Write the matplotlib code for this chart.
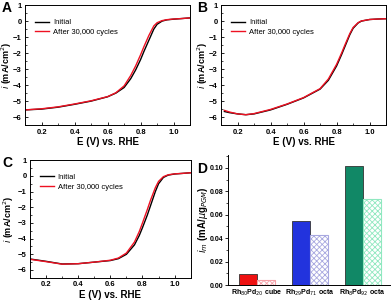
import matplotlib
matplotlib.use("Agg")
import matplotlib.pyplot as plt
from matplotlib.ticker import MultipleLocator

plt.rcParams['font.family'] = ['Liberation Sans', 'DejaVu Sans']
plt.rcParams['hatch.linewidth'] = 0.6

# --- LSV curves (E in V vs RHE, current in mA/cm2) ---
E_a = [0.10, 0.20, 0.30, 0.40, 0.50, 0.60, 0.65, 0.70, 0.74, 0.77, 0.80, 0.82, 0.85, 0.88, 0.90, 0.93, 0.96, 1.00, 1.05, 1.10]
a_init = [-5.55, -5.50, -5.38, -5.20, -5.00, -4.73, -4.50, -4.15, -3.60, -3.05, -2.40, -1.90, -1.20, -0.50, -0.20, 0.00, 0.08, 0.12, 0.16, 0.20]
a_after = [-5.55, -5.48, -5.36, -5.18, -4.98, -4.72, -4.48, -4.05, -3.40, -2.80, -2.10, -1.60, -0.90, -0.30, -0.10, 0.03, 0.09, 0.13, 0.16, 0.20]

E_b = [0.12, 0.15, 0.20, 0.25, 0.30, 0.40, 0.50, 0.60, 0.70, 0.75, 0.80, 0.83, 0.85, 0.88, 0.90, 0.93, 0.95, 1.00, 1.05, 1.10]
b_init = [-5.65, -5.72, -5.80, -5.85, -5.80, -5.55, -5.20, -4.80, -4.25, -3.70, -2.80, -2.10, -1.60, -0.85, -0.45, -0.12, 0.00, 0.10, 0.13, 0.15]
b_after = [-5.58, -5.68, -5.80, -5.85, -5.78, -5.52, -5.18, -4.78, -4.22, -3.62, -2.70, -2.00, -1.50, -0.78, -0.40, -0.10, 0.01, 0.10, 0.13, 0.15]

E_c = [0.10, 0.20, 0.30, 0.40, 0.50, 0.60, 0.65, 0.70, 0.75, 0.78, 0.80, 0.83, 0.85, 0.88, 0.90, 0.93, 0.96, 1.00, 1.05, 1.10]
c_init = [-5.30, -5.45, -5.62, -5.60, -5.50, -5.40, -5.28, -5.00, -4.40, -3.80, -3.30, -2.50, -1.90, -1.00, -0.50, -0.10, 0.05, 0.12, 0.16, 0.20]
c_after = [-5.32, -5.47, -5.63, -5.60, -5.50, -5.38, -5.24, -4.92, -4.22, -3.55, -3.00, -2.15, -1.55, -0.75, -0.35, -0.05, 0.07, 0.13, 0.16, 0.20]

# --- mass activity (mA/ug PGM) ---
catalysts = [r'Rh$_{80}$Pd$_{20}$ cube', r'Rh$_{29}$Pd$_{71}$ octa', r'Rh$_{8}$Pd$_{92}$ octa']
act_initial = [0.0094, 0.0546, 0.1015]
act_after = [0.0045, 0.0429, 0.0733]
bar_colors = ['#ee1111', '#2233dd', '#118866']
hatch_colors = ['#f7a0a8', '#a8a8e0', '#90e8c0']

fig = plt.figure(figsize=(3.92, 3.0), dpi=100)


def lsv_panel(rect, E, init, after, letter, letter_xy, ylab_x):
    ax = fig.add_axes(rect)
    ax.plot(E, init, color='black', lw=1.0, label='Initial')
    ax.plot(E, after, color='#ee1122', lw=1.0, label='After 30,000 cycles')
    ax.set_xlim(0.1, 1.1)
    ax.set_ylim(-6.5, 1)
    ax.xaxis.set_minor_locator(MultipleLocator(0.1))
    ax.yaxis.set_major_locator(MultipleLocator(1))
    ax.yaxis.set_minor_locator(MultipleLocator(0.5))
    ax.set_xticks([0.2, 0.4, 0.6, 0.8, 1.0])
    ax.set_xticklabels(['0.2', '0.4', '0.6', '0.8', '1.0'])
    ax.tick_params(which='major', direction='in', labelsize=5.5, width=0.6, length=2, pad=2.5)
    ax.tick_params(which='minor', direction='in', width=0.5, length=1.2)
    for lab in ax.get_xticklabels() + ax.get_yticklabels():
        lab.set_fontweight('bold')
    for s in ax.spines.values():
        s.set_linewidth(0.7)
    ax.set_xlabel('E (V) vs. RHE', fontsize=7, fontweight='bold', labelpad=1)
    ax.set_ylabel(r'$\mathit{i}$ (mA/cm$^2$)', fontsize=6.5, fontweight='bold')
    ax.yaxis.set_label_coords(ylab_x, 0.5)
    ax.legend(loc='upper left', bbox_to_anchor=(0.03, 0.93), frameon=False, fontsize=5.5,
              handlelength=1.8, handletextpad=0.5, borderpad=0.2, labelspacing=0.3)
    fig.text(letter_xy[0], letter_xy[1], letter, fontsize=10, fontweight='bold', va='top')
    return ax


lsv_panel([0.064, 0.583, 0.421, 0.400], E_a, a_init, a_after, 'A', (0.005, 0.997), -0.068)
lsv_panel([0.564, 0.583, 0.421, 0.400], E_b, b_init, b_after, 'B', (0.503, 0.997), -0.068)
lsv_panel([0.0765, 0.074, 0.410, 0.392], E_c, c_init, c_after, 'C', (0.005, 0.48), -0.09)

# --- panel D ---
axd = fig.add_axes([0.582, 0.05, 0.413, 0.433])
x = list(range(len(catalysts)))
w = 0.34
for i in x:
    axd.bar(i - w / 2, act_initial[i], width=w, color=bar_colors[i], edgecolor='#333333', lw=0.6)
    axd.bar(i + w / 2, act_after[i], width=w, facecolor='white', edgecolor=hatch_colors[i],
            hatch='xxxxxx', lw=0.8)
axd.set_xlim(-0.55, 2.52)
axd.set_ylim(0, 0.111)
axd.set_xticks(x)
axd.set_xticklabels(catalysts, fontsize=5, fontweight='bold')
axd.yaxis.set_minor_locator(MultipleLocator(0.01))
axd.set_yticks([0, 0.02, 0.04, 0.06, 0.08, 0.10])
axd.set_yticklabels(['0.00', '0.02', '0.04', '0.06', '0.08', '0.10'])
axd.tick_params(axis='x', length=0, pad=2)
axd.tick_params(axis='y', which='major', direction='out', labelsize=5, width=0.6, length=2, pad=1.5)
axd.tick_params(axis='y', which='minor', direction='out', width=0.5, length=1.2)
for lab in axd.get_yticklabels():
    lab.set_fontweight('bold')
axd.spines['top'].set_visible(False)
axd.spines['right'].set_visible(False)
for s in ['left', 'bottom']:
    axd.spines[s].set_linewidth(0.7)
axd.set_ylabel(r'$\mathit{i}_m$ (mA/$\mu$g$_{PGM}$)', fontsize=7, fontweight='bold')
axd.yaxis.set_label_coords(-0.11, 0.5)
fig.text(0.503, 0.46, 'D', fontsize=10, fontweight='bold', va='top')

fig.savefig('out.png', dpi=100)
